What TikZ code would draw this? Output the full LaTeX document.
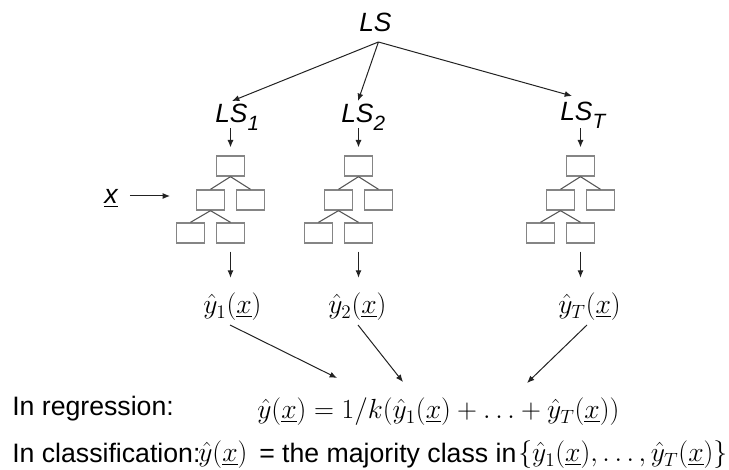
\documentclass[tikz,border=0pt]{standalone}
\usepackage[no-math]{fontspec}
\setmainfont{Liberation Sans}
\usetikzlibrary{calc,arrows.meta}
\definecolor{boxgray}{HTML}{858585}
\definecolor{linegray}{HTML}{555555}
\definecolor{arrgray}{HTML}{222222}
\newcommand{\lssub}[1]{\raisebox{-6pt}{\fontsize{15.5}{18}\selectfont #1}}
\begin{document}
\begin{tikzpicture}[x=0.75pt,y=-0.75pt,
  lbl/.style={inner sep=0pt, anchor=base west, font=\fontsize{19.8}{23}\selectfont\itshape},
  txt/.style={inner sep=0pt, anchor=base west, font=\fontsize{20}{24}\selectfont},
  mth/.style={inner sep=0pt, anchor=base west, font=\fontsize{19.5}{23}\selectfont},
  tbox/.style={draw=boxgray, line width=1pt, minimum width=20.6pt, minimum height=15pt, inner sep=0pt},
  tedge/.style={draw=linegray, line width=0.8pt},
  arr/.style={draw=arrgray, line width=0.75pt, -{Latex[length=5.5pt,width=4.5pt]}}]
\useasboundingbox (0,0) rectangle (729,470);

% labels
\node[lbl] (LS)  at (359,32)  {LS};
\node[lbl] (LS1) at (215,123) {LS\lssub{1}};
\node[lbl] (LS2) at (341,123) {LS\lssub{2}};
\node[lbl] (LST) at (560,121) {LS\lssub{T}};
\coordinate (hub) at ($(LS.base)+(3,10)$);

\draw[arr] (hub) -- ($(LS1.base west)+(17,-22)$);
\draw[arr] (hub) -- ($(LS2.base west)+(17,-22)$);
\draw[arr] (hub) -- ($(LST.base west)+(12,-25)$);

% trees
\foreach \n/\cx in {1/230.5, 2/358.5, T/580.5} {
  \node[tbox] (t\n a) at (\cx,166) {};
  \node[tbox] (t\n b) at (\cx-20,200) {};
  \node[tbox] (t\n c) at (\cx+20,200) {};
  \node[tbox] (t\n d) at (\cx-40,233) {};
  \node[tbox] (t\n e) at (\cx,233) {};
  \draw[tedge] (t\n a.south) -- (t\n b.north);
  \draw[tedge] (t\n a.south) -- (t\n c.north);
  \draw[tedge] (t\n b.south) -- (t\n d.north);
  \draw[tedge] (t\n b.south) -- (t\n e.north);
  \draw[arr] ($(t\n a.north)+(0,-27)$) -- ($(t\n a.north)+(0,-8)$);
  \draw[arr] ($(t\n e.south)+(0,8)$) -- ($(t\n e.south)+(0,34)$);
}

% input x
\node[txt, font=\fontsize{20}{24}\selectfont\itshape] (xl) at (104,204) {\underline{x}};
\coordinate (xin) at (170,196);
\draw[arr] ($(xl.base east)+(12,-8)$) -- (xin);

% tree outputs
\node[mth] (y1) at (203,314) {$\hat y_1(\underline{x})$};
\node[mth] (y2) at (328,314) {$\hat y_2(\underline{x})$};
\node[mth] (yT) at (558,314) {$\hat y_T(\underline{x})$};

% bottom text
\node[txt] (regl) at (12,416) {In regression:};
\node[mth] (reg) at (257,419) {$\hat y(\underline{x}) = 1/k(\hat y_1(\underline{x})+\ldots+\hat y_T(\underline{x}))$};
\node[txt] (cll) at (12,463) {In classification:};
\node[mth] (cly) at (198,462) {$\hat y(\underline{x})$};
\node[txt] (clt) at (259,463) {= the majority class in};
\node[mth, font=\fontsize{20}{24}\selectfont] (cls) at (518,462) {$\{\hat y_1(\underline{x}),\ldots,\hat y_T(\underline{x})\}$};

\draw[arr] ($(y1.base west)+(27,11)$) -- ($(reg.base west)+(80,-41)$);
\draw[arr] ($(y2.base west)+(30,11)$) -- ($(reg.base west)+(146,-37)$);
\draw[arr] ($(yT.base west)+(29,11)$) -- ($(reg.base west)+(270,-36)$);
\end{tikzpicture}
\end{document}
